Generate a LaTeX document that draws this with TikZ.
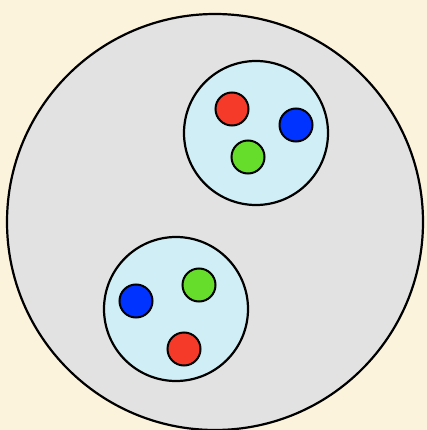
\documentclass[tikz,border=0pt]{standalone}
\usepackage{xcolor}
\usepackage{tikz}
\definecolor{paperbg}{RGB}{252,243,220}
\definecolor{cellgray}{RGB}{226,226,226}
\definecolor{clusterblue}{RGB}{208,238,245}
\definecolor{dotred}{RGB}{245,58,42}
\definecolor{dotblue}{RGB}{0,51,255}
\definecolor{dotgreen}{RGB}{102,221,42}

\begin{document}
\begin{tikzpicture}[
    x=1pt, y=-1pt,
    outer/.style={circle, draw=black, line width=2.2pt, fill=cellgray, minimum size=416pt, inner sep=0pt},
    cluster/.style={circle, draw=black, line width=2.2pt, fill=clusterblue, minimum size=144pt, inner sep=0pt},
    dot/.style={circle, draw=black, line width=2pt, minimum size=33pt, inner sep=0pt}
]

% Background
\fill[paperbg] (0,0) rectangle (427,430);
\useasboundingbox (0,0) rectangle (427,430);

% Outer Circle
\node[outer] (cell) at (215,222) {};

% Upper Cluster
\node[cluster] (upper) at (256,133) {};
\node[dot, fill=dotred] (ured) at (232,109) {};
\node[dot, fill=dotblue] (ublue) at (296,125) {};
\node[dot, fill=dotgreen] (ugreen) at (248,157) {};

% Lower Cluster
\node[cluster] (lower) at (176,309) {};
\node[dot, fill=dotblue] (lblue) at (136,301) {};
\node[dot, fill=dotgreen] (lgreen) at (199,285) {};
\node[dot, fill=dotred] (lred) at (184,349) {};

\end{tikzpicture}
\end{document}
